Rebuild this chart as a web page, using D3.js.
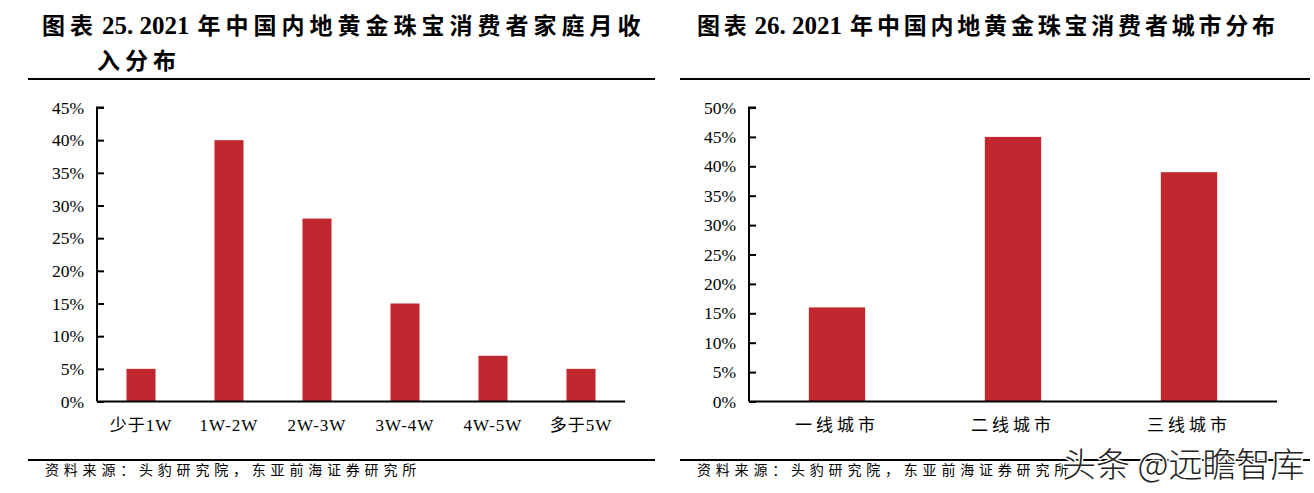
<!DOCTYPE html>
<html lang="zh">
<head>
  <meta charset="UTF-8">
  <title>黄金珠宝消费者分布</title>
  <script src="https://d3js.org/d3.v7.min.js"></script>
  <style>
    body { margin: 0; background: #fff; }
  </style>
</head>
<body>
  <div class="canvas"></div>
  <script>
    // data
    const incomeCats = ["少于1W", "1W-2W", "2W-3W", "3W-4W", "4W-5W", "多于5W"];
    const incomeVals = [5, 40, 28, 15, 7, 5];
    const incomeTicks = [0, 5, 10, 15, 20, 25, 30, 35, 40, 45];

    const cityCats = ["一线城市", "二线城市", "三线城市"];
    const cityVals = [16, 45, 39];
    const cityTicks = [0, 5, 10, 15, 20, 25, 30, 35, 40, 45, 50];

    const width = 1314;
    const height = 493;
    const barColor = '#c0272f';
    const serif = '"Liberation Serif", "Noto Sans CJK SC", serif';
    const sans = '"Noto Sans CJK SC", sans-serif';

    const svg = d3.select('.canvas')
      .append('svg')
      .attr('width', width)
      .attr('height', height);

    function drawPanel(opt) {
      const g = svg.append('g');

      // title lines
      opt.title.forEach((line, i) => {
        const t = g.append('text')
          .attr('x', line.x)
          .attr('y', 34 + i * 35)
          .attr('font-weight', 'bold')
          .attr('fill', '#000');
        line.parts.forEach(p => {
          t.append('tspan')
            .attr('dx', p.dx || 0)
            .attr('font-family', p.latin ? serif : sans)
            .attr('font-size', p.latin ? 25 : 23)
            .attr('letter-spacing', p.latin ? 0 : opt.tls)
            .text(p.s);
        });
      });

      // rules top and bottom
      g.append('line')
        .attr('x1', opt.x0).attr('x2', opt.x1)
        .attr('y1', 79).attr('y2', 79)
        .attr('stroke', '#000').attr('stroke-width', 2);
      g.append('line')
        .attr('x1', opt.x0).attr('x2', opt.x1)
        .attr('y1', 460).attr('y2', 460)
        .attr('stroke', '#000').attr('stroke-width', 2);

      g.append('text')
        .attr('x', opt.srcX)
        .attr('y', 475)
        .attr('font-size', 14)
        .attr('letter-spacing', 4.8)
        .attr('font-family', sans)
        .attr('fill', '#000')
        .text('资料来源：头豹研究院，东亚前海证券研究所');

      const x = d3.scaleBand()
        .domain(opt.cats)
        .range([opt.axL, opt.axR])
        .paddingInner(opt.pad)
        .paddingOuter(opt.pad / 2);

      const y = d3.scaleLinear()
        .domain([0, d3.max(opt.ticks)])
        .range([401.5, 107.5]);

      // bars
      g.selectAll('.bar')
        .data(opt.vals)
        .enter()
        .append('rect')
        .attr('class', 'bar')
        .attr('x', (d, i) => x(opt.cats[i]))
        .attr('y', d => y(d))
        .attr('width', x.bandwidth())
        .attr('height', d => y(0) - y(d))
        .attr('fill', barColor);

      // y axis, ticks pointing inward
      const yAxis = g.append('g')
        .attr('transform', `translate(${opt.axL},0)`)
        .call(d3.axisRight(y).tickValues(opt.ticks).tickSize(7).tickFormat(d => d + '%'))
        .attr('font-family', serif)
        .attr('font-size', 17.5);
      yAxis.select('.domain').attr('stroke-width', 2).attr('d', `M7,${y(d3.max(opt.ticks))}H0V${y(0)}`);
      yAxis.selectAll('.tick line').attr('stroke-width', 2);
      yAxis.selectAll('.tick text')
        .attr('x', -13)
        .attr('text-anchor', 'end')
        .attr('fill', '#000');

      // x axis
      const xAxis = g.append('g')
        .attr('transform', `translate(0,${y(0)})`)
        .call(d3.axisBottom(x).tickSize(0).tickPadding(17))
        .attr('font-family', serif)
        .attr('font-size', 17);
      xAxis.select('.domain').attr('stroke-width', 2).attr('d', `M${opt.axL},0H${opt.axR}`);
      xAxis.selectAll('.tick text')
        .attr('letter-spacing', opt.xls)
        .attr('fill', '#000');
    }

    drawPanel({
      title: [
        { x: 42, parts: [{ s: '图表' }, { s: '25. 2021', latin: true, dx: 4 }, { s: '年中国内地黄金珠宝消费者家庭月收', dx: 8 }] },
        { x: 97, parts: [{ s: '入分布' }] }
      ],
      tls: 5, x0: 28, x1: 655, srcX: 45,
      cats: incomeCats, vals: incomeVals, ticks: incomeTicks,
      axL: 97, axR: 625, pad: 0.67, xls: 1
    });

    drawPanel({
      title: [
        { x: 697, parts: [{ s: '图表' }, { s: '26. 2021', latin: true, dx: 4 }, { s: '年中国内地黄金珠宝消费者城市分布', dx: 8 }] }
      ],
      tls: 3.8, x0: 680, x1: 1310, srcX: 697,
      cats: cityCats, vals: cityVals, ticks: cityTicks,
      axL: 749, axR: 1277, pad: 0.68, xls: 4
    });

    // watermark
    svg.append('text')
      .attr('x', 1062)
      .attr('y', 477)
      .attr('font-size', 34)
      .attr('font-family', sans)
      .attr('font-weight', 300)
      .attr('fill', '#222')
      .attr('stroke', '#fff')
      .attr('stroke-width', 3)
      .attr('paint-order', 'stroke')
      .text('头条 @远瞻智库');
  </script>
</body>
</html>
